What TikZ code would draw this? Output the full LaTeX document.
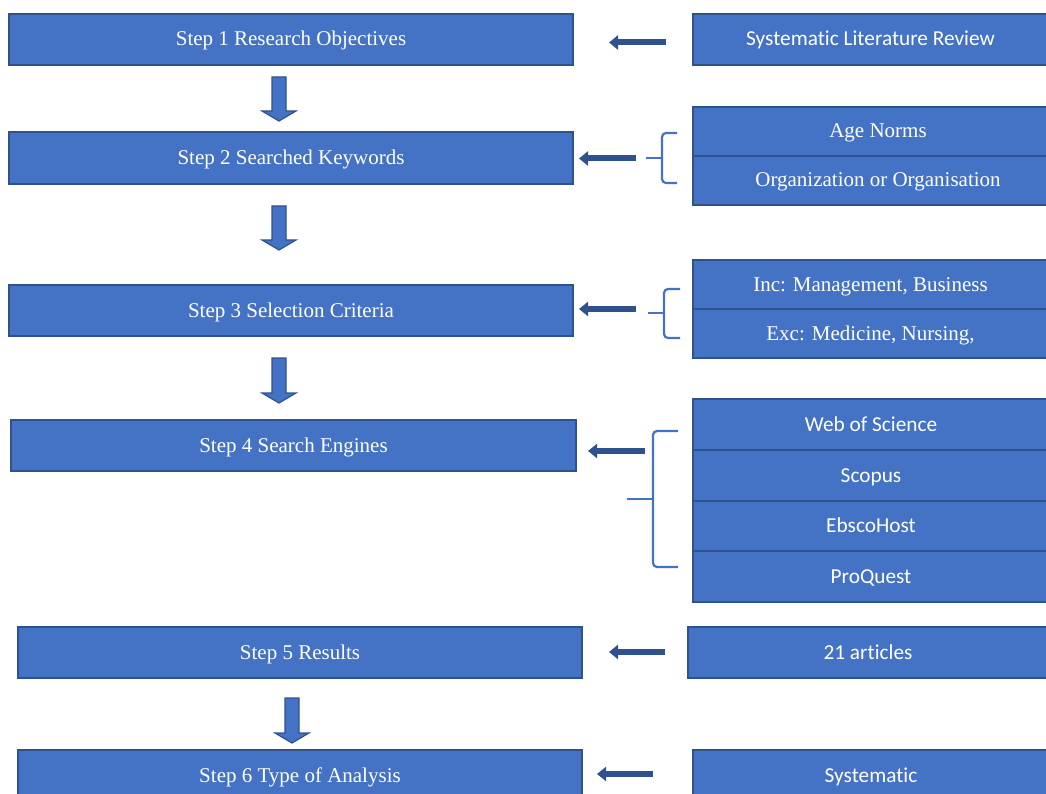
\documentclass[tikz,border=0pt]{standalone}
\usepackage{fontspec}
\setmainfont{Liberation Serif}
\newfontfamily\calfont[Ligatures=NoCommon]{Carlito}
\usetikzlibrary{arrows.meta}
\definecolor{boxfill}{HTML}{4472C4}
\definecolor{boxline}{HTML}{2F528F}
\tikzset{
  stepbox/.style={draw=boxline, fill=boxfill, line width=1.5pt, text=white, inner sep=0pt,
    text height=17pt, text depth=4pt, font=\fontsize{21}{24}\selectfont},
  sidebox/.style={stepbox},
  calbox/.style={stepbox, font=\calfont\fontsize{21.3}{24}\selectfont},
  leftarr/.style={draw=boxline, line width=6pt, -{Triangle[length=9pt,width=14pt]}},
  downarr/.style={fill=boxfill, draw=boxline, line width=1.2pt, line join=miter},
  bracestyle/.style={draw=boxfill, line width=2.2pt, rounded corners=4pt},
}
\newcommand\blockdown[3]{%
  \draw[downarr] (#1-7,#2) -- (#1+7,#2) -- (#1+7,#3-10) -- (#1+17,#3-10) -- (#1,#3)
    -- (#1-17,#3-10) -- (#1-7,#3-10) -- cycle;}
\begin{document}
\begin{tikzpicture}[x=1pt,y=-1pt]
\useasboundingbox (0,0) rectangle (1046,794);
\fill[white] (0,0) rectangle (1046,794);
\clip (0,0) rectangle (1046,794);

% left column
\node[stepbox, minimum width=564pt, minimum height=51pt] (s1) at (291,39.5) {Step 1 Research Objectives};
\node[stepbox, minimum width=564pt, minimum height=52pt] (s2) at (291,158) {Step 2 Searched Keywords};
\node[stepbox, minimum width=564pt, minimum height=51pt] (s3) at (291,310.5) {Step 3 Selection Criteria};
\node[stepbox, minimum width=565pt, minimum height=51pt] (s4) at (293.5,445.5) {Step 4 Search Engines};
\node[stepbox, minimum width=564pt, minimum height=51pt] (s5) at (300,652.5) {Step 5 Results};
\node[stepbox, minimum width=564pt, minimum height=51pt] (s6) at (300,775.5) {Step 6 Type of Analysis};

% right column
\node[calbox, minimum width=355pt, minimum height=51pt] (r1) at (870.5,39.5) {Systematic Literature Review};
\node[sidebox, minimum width=370pt, minimum height=49pt] (k1) at (878,131.5) {Age Norms};
\node[sidebox, minimum width=370pt, minimum height=49pt] (k2) at (878,180.5) {Organization or Organisation};
\node[sidebox, minimum width=355pt, minimum height=49pt] (c1) at (870.5,284.5) {Inc: Management, Business};
\node[sidebox, minimum width=355pt, minimum height=49pt] (c2) at (870.5,333.5) {Exc: Medicine, Nursing,};
\node[calbox, minimum width=356pt, minimum height=51pt] (e1) at (871,424.5) {Web of Science};
\node[calbox, minimum width=356pt, minimum height=51pt] (e2) at (871,475.5) {Scopus};
\node[calbox, minimum width=356pt, minimum height=50pt] (e3) at (871,526) {EbscoHost};
\node[calbox, minimum width=356pt, minimum height=51pt] (e4) at (871,576.5) {ProQuest};
\node[calbox, minimum width=360pt, minimum height=51pt] (r5) at (868,652.5) {21 articles};
\node[calbox, minimum width=356pt, minimum height=51pt] (r6) at (871,775.5) {Systematic};

% down block arrows
\blockdown{279}{77}{121}
\blockdown{279}{206}{250}
\blockdown{279}{358}{403}
\blockdown{292}{698}{743}

% left arrows
\coordinate (a1t) at (666,42.5);  \coordinate (a1h) at (609,42.5);
\coordinate (a2t) at (636,158.5); \coordinate (a2h) at (579,158.5);
\coordinate (a3t) at (636,309);   \coordinate (a3h) at (579,309);
\coordinate (a4t) at (645,451);   \coordinate (a4h) at (588,451);
\coordinate (a5t) at (665,652);   \coordinate (a5h) at (609,652);
\coordinate (a6t) at (653,774);   \coordinate (a6h) at (597,774);
\draw[leftarr] (a1t) -- (a1h);
\draw[leftarr] (a2t) -- (a2h);
\draw[leftarr] (a3t) -- (a3h);
\draw[leftarr] (a4t) -- (a4h);
\draw[leftarr] (a5t) -- (a5h);
\draw[leftarr] (a6t) -- (a6h);

% braces
\draw[bracestyle] (677,133) -- (662,133) -- (662,183) -- (677,183);
\draw[bracestyle] (646,158) -- (662,158);
\draw[bracestyle] (680,289) -- (664,289) -- (664,338) -- (680,338);
\draw[bracestyle] (648,313) -- (664,313);
\draw[bracestyle] (678,431) -- (653,431) -- (653,567) -- (678,567);
\draw[bracestyle] (627,499) -- (653,499);
\end{tikzpicture}
\end{document}
